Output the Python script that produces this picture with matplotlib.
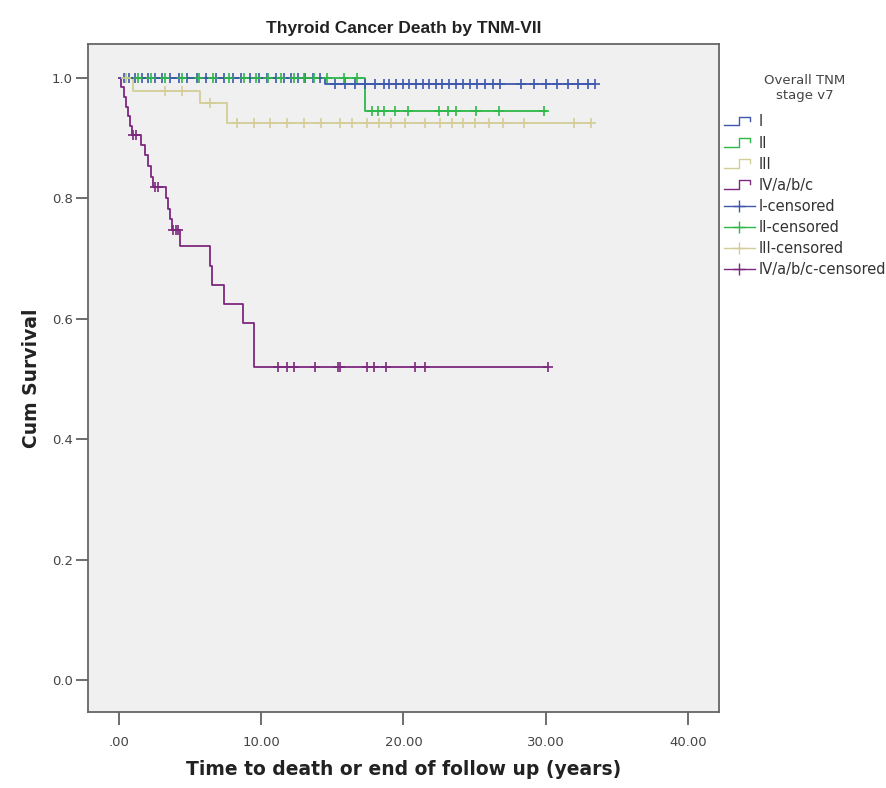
import numpy as np
import matplotlib
matplotlib.use("Agg")
import matplotlib.pyplot as plt
from matplotlib.lines import Line2D
from matplotlib.legend_handler import HandlerBase

plt.rcParams['font.family'] = ['DejaVu Sans']

# Kaplan-Meier step data per overall TNM stage (time in years, cumulative survival)
stage_labels = ["I", "II", "III", "IV/a/b/c"]
stage_colors = ["#3E58AC", "#2EB848", "#D3CE97", "#7C287D"]

stage1_times = [0.0, 14.5]
stage1_surv = [1.0, 0.990]
stage1_end = 33.5
stage1_censored = [0.3, 0.7, 1.1, 1.6, 2.0, 2.5, 3.0, 3.6, 4.2, 4.8, 5.5, 6.1, 6.8,
                   7.4, 8.0, 8.6, 9.2, 9.8, 10.4, 11.0, 11.6, 12.1, 12.6, 13.1,
                   13.6, 14.1, 15.2, 15.9, 16.6, 17.3, 18.0, 18.6, 19.0, 19.5,
                   20.0, 20.4, 20.9, 21.4, 21.8, 22.3, 22.7, 23.2, 23.7, 24.2,
                   24.7, 25.2, 25.7, 26.3, 26.8, 28.3, 29.2, 30.0, 30.8, 31.6,
                   32.3, 33.0, 33.5]

stage2_times = [0.0, 17.3]
stage2_surv = [1.0, 0.945]
stage2_end = 30.0
stage2_censored = [0.5, 1.3, 2.2, 3.2, 4.4, 5.6, 6.6, 7.7, 8.8, 9.6, 10.5, 11.4,
                   12.3, 13.0, 13.7, 14.6, 15.8, 16.7, 17.8, 18.2, 18.6, 19.4,
                   20.3, 22.5, 23.1, 23.7, 25.1, 26.7, 29.9]

stage3_times = [0.0, 1.0, 5.7, 7.6]
stage3_surv = [1.0, 0.978, 0.958, 0.925]
stage3_end = 33.2
stage3_censored = [0.5, 3.2, 4.4, 6.4, 8.3, 9.5, 10.6, 11.8, 13.0, 14.2, 15.5,
                   16.4, 17.4, 18.3, 19.1, 20.1, 21.5, 22.6, 23.4, 24.2, 25.0,
                   26.0, 27.0, 28.5, 32.0, 33.2]

stage4_times = [0.0, 0.15, 0.3, 0.45, 0.6, 0.75, 0.9, 1.5, 1.8, 2.0, 2.2, 2.4,
                3.3, 3.45, 3.55, 3.7, 4.3, 6.4, 6.5, 7.35, 8.7, 9.45]
stage4_surv = [1.0, 0.984, 0.968, 0.952, 0.936, 0.920, 0.905, 0.889, 0.871,
               0.853, 0.836, 0.818, 0.800, 0.782, 0.765, 0.748, 0.720, 0.688,
               0.656, 0.625, 0.593, 0.520]
stage4_end = 30.2
stage4_censored = [1.0, 1.2, 2.5, 2.7, 3.8, 4.0, 4.1, 11.2, 11.8, 12.3, 13.8,
                   15.4, 15.5, 17.4, 17.9, 18.8, 20.8, 21.5, 30.2]

x_ticks = [0, 10, 20, 30, 40]
x_tick_labels = [".00", "10.00", "20.00", "30.00", "40.00"]
y_ticks = [0.0, 0.2, 0.4, 0.6, 0.8, 1.0]
y_tick_labels = ["0.0", "0.2", "0.4", "0.6", "0.8", "1.0"]

stages = [
    (stage1_times, stage1_surv, stage1_end, stage1_censored),
    (stage2_times, stage2_surv, stage2_end, stage2_censored),
    (stage3_times, stage3_surv, stage3_end, stage3_censored),
    (stage4_times, stage4_surv, stage4_end, stage4_censored),
]

fig = plt.figure(figsize=(8.86, 7.88), dpi=100)
ax = fig.add_axes([88 / 886, 1 - 712 / 788, (719 - 88) / 886, (712 - 44) / 788])
ax.set_facecolor("#F0F0F0")

for (times, surv, end, cens), color in zip(stages, stage_colors):
    t = np.append(times, end)
    s = np.append(surv, surv[-1])
    ax.step(t, s, where="post", color=color, lw=1.3, zorder=3)
    idx = np.searchsorted(times, cens, side="right") - 1
    cs = np.asarray(surv)[idx]
    ax.plot(cens, cs, linestyle="none", marker="+", ms=7.5, mew=1.2,
            color=color, zorder=4)

ax.set_xlim(-2.2, 42.2)
ax.set_ylim(-0.053, 1.056)
ax.set_xticks(x_ticks)
ax.set_xticklabels(x_tick_labels)
ax.set_yticks(y_ticks)
ax.set_yticklabels(y_tick_labels)
ax.tick_params(axis="both", direction="out", length=9, width=1.2, colors="#555555",
               labelsize=9.5, labelcolor="#444444")
ax.tick_params(axis="x", pad=8)
ax.tick_params(axis="y", pad=2)
for sp in ax.spines.values():
    sp.set_color("#666666")
    sp.set_linewidth(1.3)

ax.set_title("Thyroid Cancer Death by TNM-VII", fontsize=12.5, fontweight="bold",
             color="#222222", pad=8, family=["Liberation Sans", "DejaVu Sans"])
ax.set_xlabel("Time to death or end of follow up (years)", fontsize=13.5,
              fontweight="bold", color="#222222", labelpad=8)
ax.set_ylabel("Cum Survival", fontsize=13.5, fontweight="bold", color="#222222",
              labelpad=8)


class StepHandler(HandlerBase):
    def create_artists(self, legend, orig_handle, xdescent, ydescent, width,
                       height, fontsize, trans):
        x0, y0 = -xdescent, -ydescent
        xs = [x0, x0 + 0.5 * width, x0 + 0.5 * width, x0 + 0.85 * width,
              x0 + 0.85 * width]
        ys = [y0 + 0.1 * height, y0 + 0.1 * height, y0 + 0.95 * height,
              y0 + 0.95 * height, y0 + 0.55 * height]
        line = Line2D(xs, ys, color=orig_handle.get_color(), lw=1.0)
        line.set_transform(trans)
        return [line]


step_handles = [Line2D([], [], color=c) for c in stage_colors]
cens_handles = [Line2D([], [], color=c, lw=1.0, marker="+", ms=9, mew=1.0)
                for c in stage_colors]
handles = step_handles + cens_handles
labels = stage_labels + [f"{s}-censored" for s in stage_labels]
handler_map = {h: StepHandler() for h in step_handles}

leg = fig.legend(handles, labels, handler_map=handler_map, loc="upper left",
                 bbox_to_anchor=(724 / 886, 1 - 74 / 788), frameon=False,
                 fontsize=10.5, title="Overall TNM\nstage v7", title_fontsize=9.5,
                 handlelength=2.1, handletextpad=0.25, labelspacing=0.42,
                 borderaxespad=0, borderpad=0)
for txt in leg.get_texts():
    txt.set_color("#333333")
leg.get_title().set_color("#444444")
leg.get_title().set_multialignment("center")
leg._legend_box.sep = 9

fig.savefig("out.png", dpi=100, facecolor="white")
